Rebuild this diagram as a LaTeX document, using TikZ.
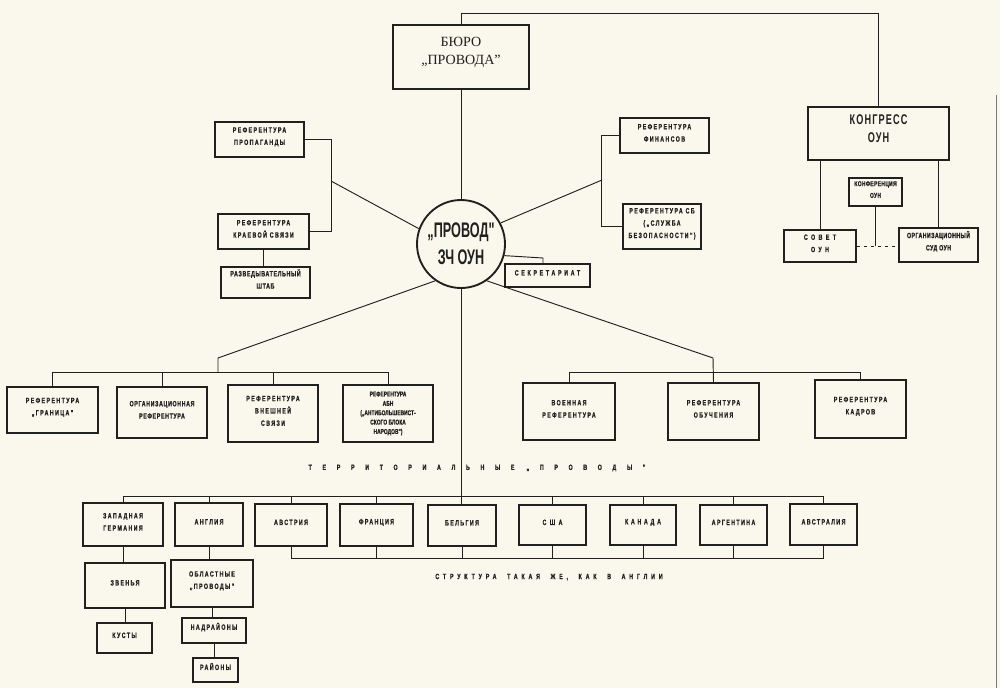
\documentclass[tikz,border=0pt]{standalone}
\usepackage{fontspec}
\setmainfont{Liberation Serif}
\newfontfamily\boxfont[FakeStretch=0.7,LetterSpace=18,FakeBold=0.8]{Liberation Sans Bold}
\newfontfamily\bigfont[FakeStretch=0.6]{Liberation Sans Bold}
\newfontfamily\kongfont[FakeStretch=0.65,LetterSpace=8]{Liberation Sans Bold}
\usetikzlibrary{fit}
\definecolor{paper}{RGB}{250,248,237}
\definecolor{ink}{RGB}{32,32,30}

\begin{document}
\begin{tikzpicture}[x=0.03cm, y=-0.03cm, ink,
    box/.style={draw=ink, line width=1.3pt, inner sep=0pt, align=center, text=ink,
      font=\boxfont\fontsize{6.5}{10.5}\selectfont},
    wide/.style={box, font=\boxfont\fontsize{6.5}{10.5}\selectfont\addfontfeature{LetterSpace=45}},
    bigbox/.style={box, line width=1.8pt},
    link/.style={draw=ink, line width=0.8pt},
    caption/.style={text=ink, inner sep=0pt, font=\boxfont\fontsize{6.5}{10}\selectfont}]
    \useasboundingbox (0,0) rectangle (1000,688);
    \fill[paper] (0,0) rectangle (1000,688);

    % leadership
    \node[bigbox, font=\fontsize{12}{15.5}\selectfont, fit={(393,25) (529,89)}] (buro) {БЮРО\\„ПРОВОДА"};
    \node[draw=ink, circle, line width=1.6pt, minimum size=2.64cm, inner sep=0pt, align=center,
          font=\bigfont\fontsize{18}{23}\selectfont] (provod) at (461,244) {„ПРОВОД"\\ЗЧ ОУН};
    \node[bigbox, font=\kongfont\fontsize{12}{16}\selectfont, fit={(808,107) (949,160)}] (kongr) {КОНГРЕСС\\ОУН};
    \node[box, font=\boxfont\fontsize{6}{10}\selectfont\addfontfeature{LetterSpace=5}, fit={(849,178) (902,206)}] (konf) {КОНФЕРЕНЦИЯ\\ОУН};
    \node[wide, fit={(784,230) (856,262)}] (sovet) {СОВЕТ\\ОУН};
    \node[box, font=\boxfont\fontsize{6.5}{10.5}\selectfont\addfontfeature{LetterSpace=5}, fit={(899,228) (978,262)}] (sud) {ОРГАНИЗАЦИОННЫЙ\\СУД ОУН};

    % referenturas round the provod
    \node[box, fit={(215,122) (304,157)}] (prop) {РЕФЕРЕНТУРА\\ПРОПАГАНДЫ};
    \node[box, fit={(218,214) (309,249)}] (kraj) {РЕФЕРЕНТУРА\\КРАЕВОЙ СВЯЗИ};
    \node[box, font=\boxfont\fontsize{6.5}{10.5}\selectfont\addfontfeature{LetterSpace=8}, fit={(221,267) (310,298)}] (razv) {РАЗВЕДЫВАТЕЛЬНЫЙ\\ШТАБ};
    \node[box, fit={(620,118) (709,153)}] (fin) {РЕФЕРЕНТУРА\\ФИНАНСОВ};
    \node[box, fit={(623,204) (701,249)}] (sb) {РЕФЕРЕНТУРА СБ\\(„СЛУЖБА\\БЕЗОПАСНОСТИ")};
    \node[wide, font=\boxfont\fontsize{6.5}{10}\selectfont\addfontfeature{LetterSpace=35}, fit={(505,264) (590,287)}] (sec) {СЕКРЕТАРИАТ};

    % middle row
    \node[box, fit={(7,387) (98,433)}] (gran) {РЕФЕРЕНТУРА\\„ГРАНИЦА"};
    \node[box, font=\boxfont\fontsize{6.5}{10.5}\selectfont\addfontfeature{LetterSpace=8}, fit={(117,387) (207,438)}] (org) {ОРГАНИЗАЦИОННАЯ\\РЕФЕРЕНТУРА};
    \node[box, fit={(228,385) (318,442)}] (vnesh) {РЕФЕРЕНТУРА\\ВНЕШНЕЙ\\СВЯЗИ};
    \node[box, fit={(343,385) (433,442)},
          label={[align=center, text=ink,
                  font=\boxfont\fontsize{6}{8}\selectfont\addfontfeature{LetterSpace=0}]center:РЕФЕРЕНТУРА\\АБН\\(„АНТИБОЛЬШЕВИСТ-\\СКОГО БЛОКА\\НАРОДОВ")}] (abn) {};
    \node[box, fit={(523,383) (615,440)}] (voen) {ВОЕННАЯ\\РЕФЕРЕНТУРА};
    \node[box, fit={(668,383) (759,440)}] (obuch) {РЕФЕРЕНТУРА\\ОБУЧЕНИЯ};
    \node[box, fit={(815,380) (906,438)}] (kadr) {РЕФЕРЕНТУРА\\КАДРОВ};

    % territorial provods
    \node[caption, font=\boxfont\fontsize{6.5}{10}\selectfont\addfontfeature{LetterSpace=140}] (terr) at (477,468) {ТЕРРИТОРИАЛЬНЫЕ „ПРОВОДЫ"};
    \node[box, fit={(83,503) (163,546)}] (zg) {ЗАПАДНАЯ\\ГЕРМАНИЯ};
    \node[box, fit={(175,503) (243,546)}] (angl) {АНГЛИЯ};
    \node[box, fit={(255,504) (327,546)}] (avstr) {АВСТРИЯ};
    \node[box, fit={(340,504) (413,546)}] (fr) {ФРАНЦИЯ};
    \node[box, fit={(428,505) (496,546)}] (belg) {БЕЛЬГИЯ};
    \node[wide, fit={(519,505) (586,545)}] (usa) {США};
    \node[wide, font=\boxfont\fontsize{6.5}{10}\selectfont\addfontfeature{LetterSpace=35}, fit={(610,505) (676,545)}] (kan) {КАНАДА};
    \node[box, fit={(700,505) (767,545)}] (arg) {АРГЕНТИНА};
    \node[box, fit={(790,504) (857,545)}] (austl) {АВСТРАЛИЯ};
    \node[caption, font=\boxfont\fontsize{6.5}{10}\selectfont\addfontfeature{LetterSpace=50}] (struct) at (549,577) {СТРУКТУРА \ ТАКАЯ \ ЖЕ, \ КАК \ В \ АНГЛИИ};

    \node[box, fit={(85,563) (165,608)}] (zven) {ЗВЕНЬЯ};
    \node[box, fit={(97,623) (152,653)}] (kust) {КУСТЫ};
    \node[box, fit={(171,560) (253,607)}] (obl) {ОБЛАСТНЫЕ\\„ПРОВОДЫ"};
    \node[box, fit={(182,618) (246,643)}] (nadr) {НАДРАЙОНЫ};
    \node[box, fit={(193,658) (238,682)}] (rajon) {РАЙОНЫ};

    % joints
    \coordinate (lj) at (331,181);
    \coordinate (rj) at (602,180);
    \coordinate (secj) at (543,258);
    \coordinate (lmid) at (218,358);
    \coordinate (rmid) at (713,358);
    \coordinate (lbar) at (218,372);
    \coordinate (tbar) at (462,496);
    \coordinate (bbar) at (462,558);

    % connectors
    \draw[link] (buro) -- (provod);
    \draw[link] (buro.north) -- ++(0,-10) -| (kongr.north);
    \draw[link] (sovet.north) -- (sovet.north |- kongr.south);
    \draw[link] (sud.north) -- (sud.north |- kongr.south);
    \draw[link] (konf.south) -- (konf.south |- sovet.east);
    \draw[link, dashed] (sovet.east) -- (sovet.east -| sud.west);

    \draw[link] (prop.east) -- ++(27,0) |- (kraj.east);
    \draw[link] (provod.160) -- (lj);
    \draw[link] (kraj.south) -- (kraj.south |- razv.north);
    \draw[link] (fin.west) -- ++(-18,0) |- (sb.west);
    \draw[link] (provod.28) -- (rj);
    \draw[link] (provod.345) -- (secj) -- (secj |- sec.north);

    \draw[link] (provod.235) -- (lmid) -- (lbar);
    \draw[link] (gran.north |- lbar) -- (abn.north |- lbar);
    \foreach \b in {gran,org,vnesh,abn}
        \draw[link] (\b.north) -- (\b.north |- lbar);
    \draw[link] (provod.305) -- (rmid) -- (obuch.north);
    \draw[link] (voen.north |- 0,372) -- (kadr.north |- 0,372);
    \foreach \b in {voen,kadr}
        \draw[link] (\b.north) -- (\b.north |- 0,372);

    \draw[link] (provod.south) -- (provod.south |- belg.north);
    \draw[link] (zg.north |- tbar) -- (austl.north |- tbar);
    \foreach \b in {zg,angl,avstr,fr,usa,kan,arg,austl}
        \draw[link] (\b.north) -- (\b.north |- tbar);
    \draw[link] (avstr.south |- bbar) -- (austl.south |- bbar);
    \foreach \b in {avstr,fr,belg,usa,kan,arg,austl}
        \draw[link] (\b.south) -- (\b.south |- bbar);

    \draw[link] (zg.south) -- (zg.south |- zven.north);
    \draw[link] (zven.south) -- (zven.south |- kust.north);
    \draw[link] (angl.south) -- (angl.south |- obl.north);
    \draw[link] (obl.south) -- (obl.south |- nadr.north);
    \draw[link] (nadr.south) -- (nadr.south |- rajon.north);

    % page edge
    \draw[ink!60, line width=0.6pt] (996,95) -- (996,688);
\end{tikzpicture}
\end{document}
